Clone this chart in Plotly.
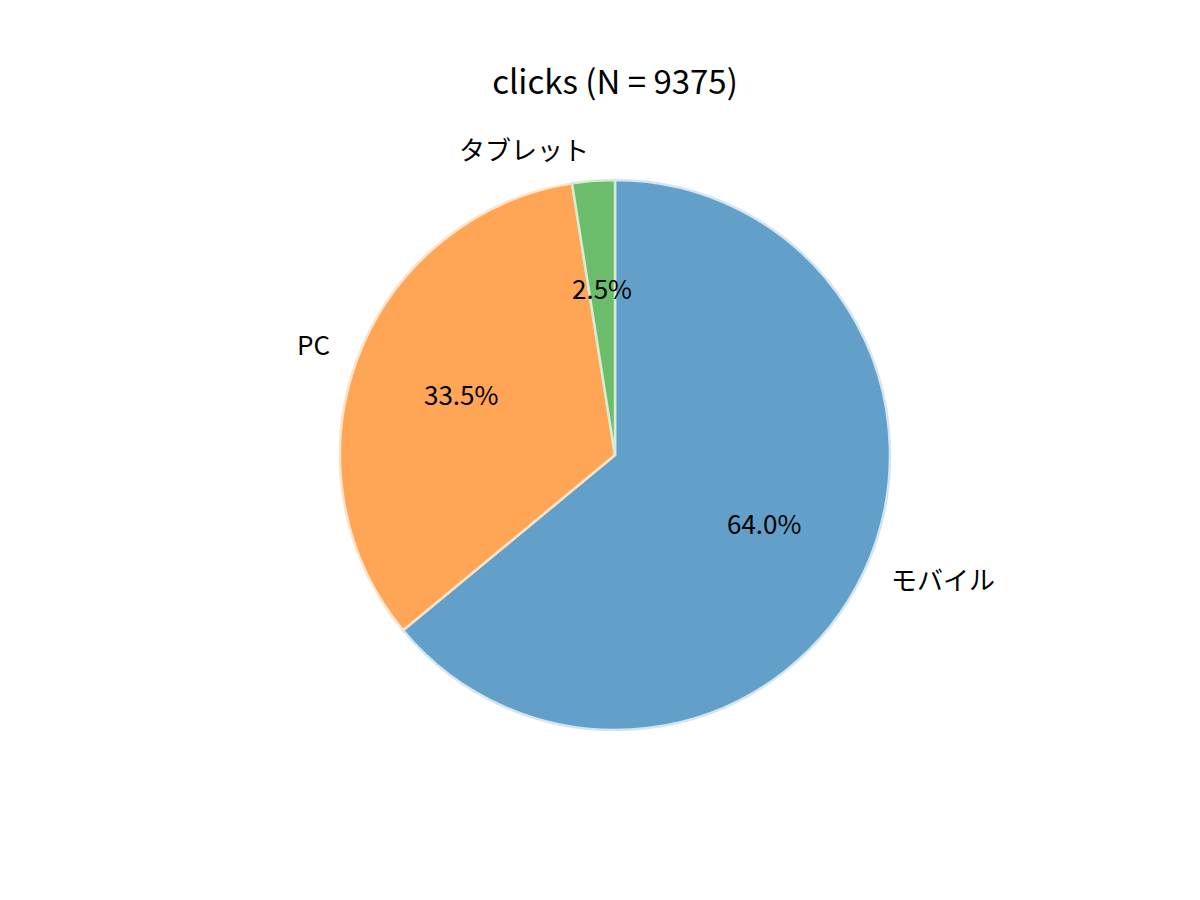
import math
import plotly.graph_objects as go

# データ
labels = ['モバイル', 'PC', 'タブレット']
clicks = [6000, 3141, 234]
colors = ['#62a0ca', '#ffa556', '#6bbc6b']
edge_colors = ['#d4e5f2', '#ffe2c8', '#d4edd4']
title = 'clicks (N = %d)' % sum(clicks)

FONT = 'Noto Sans CJK JP'
W, H = 1200, 900
OFF = 8  # ページの余白ぶん
cx, cy, R = 615 - OFF, 445 + OFF, 275  # 円の中心と半径 (px, 下から)

fig = go.Figure(go.Pie(
    labels=labels, values=clicks, sort=False, direction='clockwise', rotation=0,
    marker=dict(colors=colors, line=dict(color=edge_colors, width=2.5)),
    textinfo='none', hoverinfo='label+percent', showlegend=False,
    domain=dict(x=[(cx - R) / W, (cx + R) / W], y=[(cy - R) / H, (cy + R) / H]),
))

# ラベルとパーセント表示 (matplotlib風: ラベル 1.1R, パーセント 0.6R)
total = sum(clicks)
start = 90.0
for lab, v in zip(labels, clicks):
    frac = v / total
    mid = math.radians(start - frac * 360 / 2)
    start -= frac * 360
    c, s = math.cos(mid), math.sin(mid)
    fig.add_annotation(x=(cx + 1.1 * R * c) / W, y=(cy + 1.1 * R * s) / H,
                       xref='paper', yref='paper', text=lab, showarrow=False,
                       xanchor='left' if c > 0 else 'right', yanchor='middle', yshift=5,
                       font=dict(family=FONT, size=26, color='black'))
    fig.add_annotation(x=(cx + 0.6 * R * c) / W, y=(cy + 0.6 * R * s) / H,
                       xref='paper', yref='paper', text='%.1f%%' % (frac * 100),
                       showarrow=False, xanchor='center', yanchor='middle', yshift=3,
                       font=dict(family=FONT, size=26, color='black'))

fig.update_layout(
    width=W, height=H,
    margin=dict(l=0, r=0, t=0, b=0),
    paper_bgcolor='white', plot_bgcolor='white',
    title=dict(text=title, x=(615 - OFF) / W, xanchor='center', y=1 - (82 - OFF) / H,
               yanchor='middle', font=dict(family=FONT, size=33, color='black')),
)

fig.write_html("out.html")
